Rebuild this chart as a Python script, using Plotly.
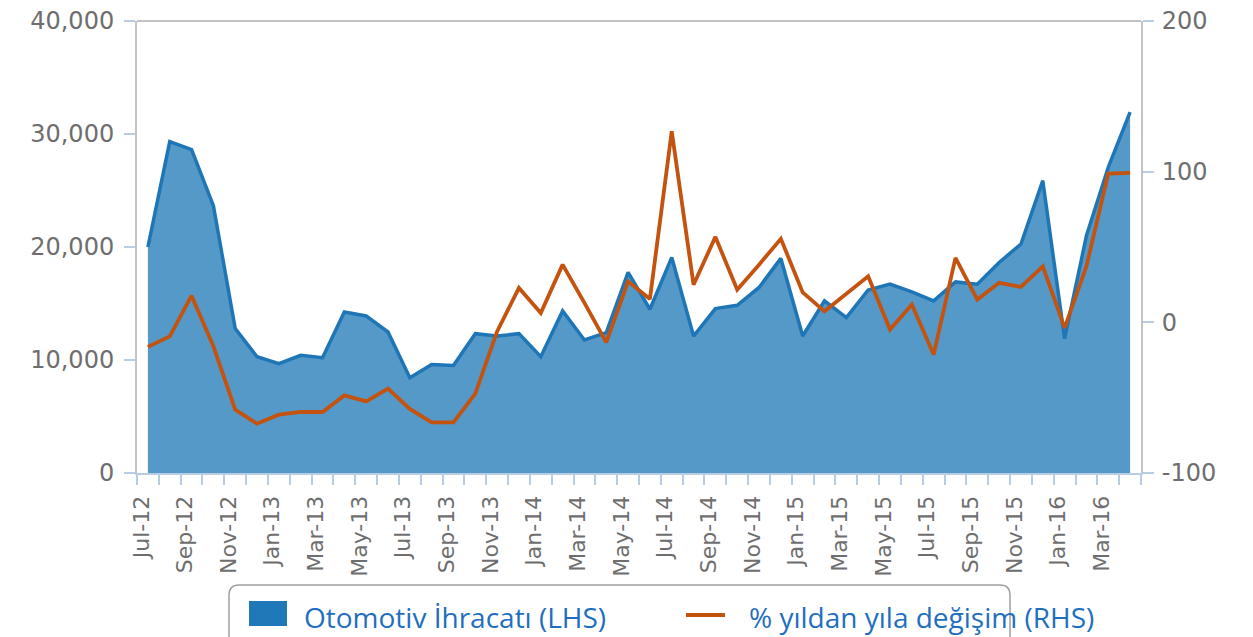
import plotly.graph_objects as go

months = ["Jul-12","Aug-12","Sep-12","Oct-12","Nov-12","Dec-12",
          "Jan-13","Feb-13","Mar-13","Apr-13","May-13","Jun-13",
          "Jul-13","Aug-13","Sep-13","Oct-13","Nov-13","Dec-13",
          "Jan-14","Feb-14","Mar-14","Apr-14","May-14","Jun-14",
          "Jul-14","Aug-14","Sep-14","Oct-14","Nov-14","Dec-14",
          "Jan-15","Feb-15","Mar-15","Apr-15","May-15","Jun-15",
          "Jul-15","Aug-15","Sep-15","Oct-15","Nov-15","Dec-15",
          "Jan-16","Feb-16","Mar-16","Apr-16"]

exports = [20000, 29330, 28620, 23660, 12780, 10290,
           9670, 10410, 10200, 14250, 13900, 12480,
           8430, 9610, 9520, 12330, 12120, 12330,
           10290, 14340, 11770, 12420, 17750, 14490,
           19080, 12120, 14550, 14840, 16420, 18990,
           12120, 15230, 13750, 16200, 16710, 16030,
           15230, 16910, 16710, 18630, 20260, 25870,
           11890, 20990, 27060, 31940]

yoy = [-16.3, -9.3, 17.7, -15.9, -58.0, -67.3,
       -61.3, -59.5, -59.5, -48.5, -52.5, -44.0,
       -57.5, -66.4, -66.4, -47.3, -6.0, 22.8,
       6.2, 38.3, 12.9, -13.3, 27.2, 15.5,
       126.8, 25.0, 56.7, 21.7, 38.3, 55.4,
       19.9, 7.3, 19.0, 30.5, -4.8, 11.8,
       -21.4, 42.8, 15.1, 26.2, 23.5, 37.2,
       -3.7, 37.2, 98.7, 99.2]

left_ticks = [0, 10000, 20000, 30000, 40000]
right_ticks = [-100, 0, 100, 200]
right_ticklabels = ["-100", "0", "100", "200"]

name_lhs = "Otomotiv İhracatı (LHS)"
name_rhs = "% yıldan yıla değişim (RHS)"

idx = list(range(len(months)))
label_idx = idx[::2]
label_text = months[::2]
label_shift = 0.3

# page body has an 8px margin; size the figure so it fits the window
OFF = 8
W, H = 1253 - OFF, 637 - OFF
L, T = 137 - OFF, 21 - OFF
R = W - (1141 - OFF)
B = H - (473 - OFF)
pw, ph = W - L - R, H - T - B

def px(x):  # screen pixel x -> paper
    return (x - OFF - L) / pw

def py(y):  # screen pixel y -> paper
    return (H - B - (y - OFF)) / ph

AREA_FILL = "#5499c7"
AREA_LINE = "#1f76b7"
ORANGE = "#c4530f"
GRAY = "#6e6e6e"
TICKBLUE = "#b8cde3"
AXGRAY = "#c3c3c3"
LEGTXT = "#1f6fc0"

fig = go.Figure()
fig.add_trace(go.Scatter(x=idx, y=exports, name=name_lhs, mode="lines",
                         fill="tozeroy", fillcolor=AREA_FILL,
                         line=dict(color=AREA_LINE, width=3.5)))
fig.add_trace(go.Scatter(x=idx, y=yoy, name=name_rhs, mode="lines", yaxis="y2",
                         line=dict(color=ORANGE, width=3.8)))

font = dict(family="DejaVu Sans", size=22, color=GRAY)

fig.update_layout(
    width=W, height=H,
    margin=dict(l=L, r=R, t=T, b=B, pad=0, autoexpand=False),
    paper_bgcolor="white", plot_bgcolor="white",
    showlegend=False,
    font=font,
    xaxis=dict(range=[-0.5, len(months) - 0.5],
               automargin=False,
               tickmode="array",
               tickvals=[i - label_shift for i in label_idx],
               ticktext=label_text,
               tickangle=-90, ticks="outside", ticklen=0,
               tickfont=dict(family="DejaVu Sans", size=22, color=GRAY),
               ticklabelstandoff=12, ticklabeloverflow="allow",
               minor=dict(tick0=-0.5, dtick=1, ticks="outside", ticklen=10,
                          tickcolor=TICKBLUE, tickwidth=2, showgrid=False),
               showline=True, linecolor=TICKBLUE, linewidth=2,
               showgrid=False, zeroline=False),
    yaxis=dict(range=[0, 40000], tickmode="array", tickvals=left_ticks,
               automargin=False, ticklabeloverflow="allow",
               tickformat=",", ticks="outside", ticklen=11, tickwidth=2,
               tickcolor=TICKBLUE, showline=True, linecolor=AXGRAY, linewidth=2,
               showgrid=False, zeroline=False,
               tickfont=dict(family="DejaVu Sans", size=24, color=GRAY),
               ticklabelstandoff=5),
    yaxis2=dict(range=[-100, 200], tickmode="array", tickvals=right_ticks,
                ticktext=right_ticklabels,
                automargin=False, ticklabeloverflow="allow",
                overlaying="y", side="right", ticks="outside", ticklen=11,
                tickwidth=2, tickcolor=TICKBLUE, showline=True,
                linecolor=AXGRAY, linewidth=2, showgrid=False, zeroline=False,
                tickfont=dict(family="DejaVu Sans", size=24, color=GRAY),
                ticklabelstandoff=3),
)

# top frame line
fig.add_shape(type="line", xref="paper", yref="paper", x0=0, x1=1, y0=1, y1=1,
              line=dict(color=AXGRAY, width=2))

# legend box (rounded, open at bottom)
bx0, bx1, by0, by1, r = 229, 1010, 585, 660, 10
path = (f"M {px(bx0)},{py(by1)} L {px(bx0)},{py(by0 + r)} "
        f"Q {px(bx0)},{py(by0)} {px(bx0 + r)},{py(by0)} "
        f"L {px(bx1 - r)},{py(by0)} "
        f"Q {px(bx1)},{py(by0)} {px(bx1)},{py(by0 + r)} "
        f"L {px(bx1)},{py(by1)}")
fig.add_shape(type="path", xref="paper", yref="paper", path=path,
              line=dict(color="#a0a0a0", width=1.5))

# legend symbols
fig.add_shape(type="rect", xref="paper", yref="paper",
              x0=px(249), x1=px(287), y0=py(626), y1=py(601),
              fillcolor="#1f78b8", line=dict(width=0))
fig.add_shape(type="line", xref="paper", yref="paper",
              x0=px(686), x1=px(725), y0=py(615), y1=py(615),
              line=dict(color=ORANGE, width=4))

legfont = dict(family="Open Sans", size=28, color=LEGTXT)
fig.add_annotation(xref="paper", yref="paper", x=px(302), y=py(617),
                   xanchor="left", yanchor="middle", showarrow=False,
                   text=name_lhs, font=legfont)
fig.add_annotation(xref="paper", yref="paper", x=px(747), y=py(617),
                   xanchor="left", yanchor="middle", showarrow=False,
                   text=name_rhs, font=legfont)

fig.write_html("out.html")
